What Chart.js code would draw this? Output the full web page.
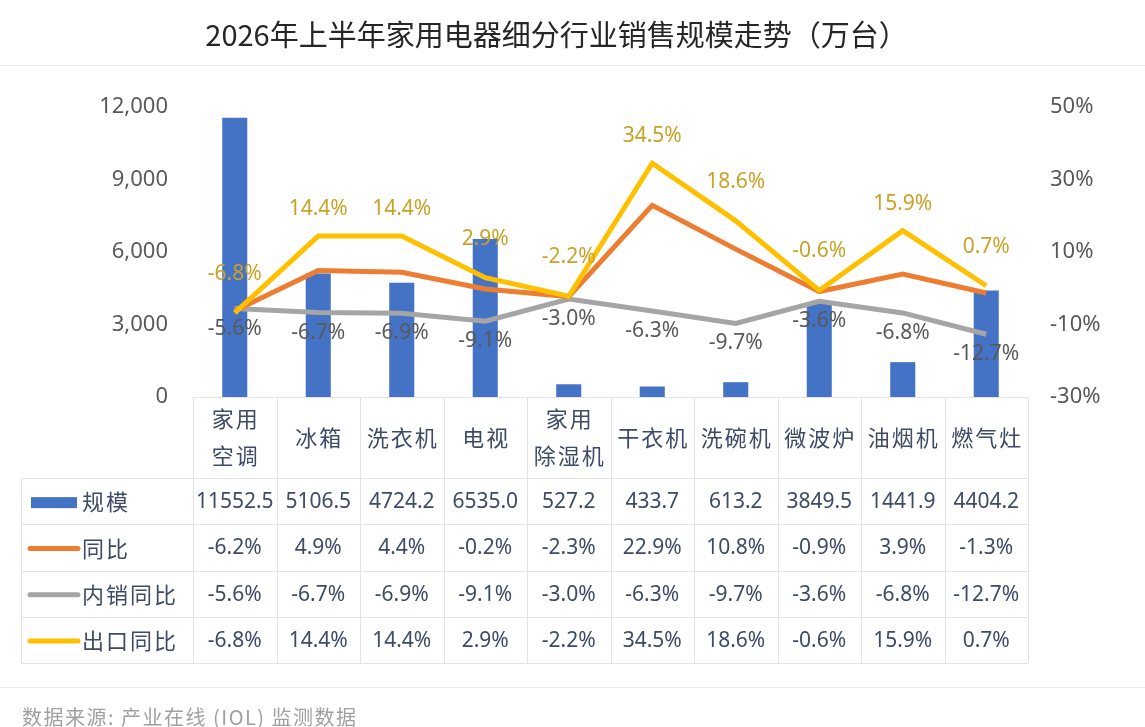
<!DOCTYPE html>
<html lang="zh">
<head>
<meta charset="utf-8">
<title>2026年上半年家用电器细分行业销售规模走势</title>
<script src="https://cdn.jsdelivr.net/npm/chart.js@4.4.1/dist/chart.umd.min.js"></script>
<style>
  html, body { margin: 0; padding: 0; background: #fff; }
  body { font-family: "Noto Sans", "Noto Sans CJK SC", sans-serif; }
  #wrap { position: relative; width: 1145px; height: 727px; overflow: hidden; }
  #title {
    position: absolute; left: 0; top: 12px; width: 1113px; text-align: center;
    font-size: 29px; color: #262626; font-family: "Noto Sans CJK SC", sans-serif;
  }
  #topline { position: absolute; left: 0; top: 65px; width: 1145px; height: 1px; background: #e6e6e6; }
  #botline { position: absolute; left: 0; top: 687px; width: 1145px; height: 1px; background: #ececec; }
  #source {
    position: absolute; left: 22px; top: 702px; font-size: 20px; color: #a0a0a0;
    letter-spacing: 1.5px; font-family: "Noto Sans CJK SC", sans-serif;
  }
  #chart-box { position: absolute; left: 0; top: 0; width: 1145px; height: 727px; }
</style>
</head>
<body>
<div id="wrap">
  <div id="chart-box"><canvas id="chart"></canvas></div>
  <div id="title">2026年上半年家用电器细分行业销售规模走势（万台）</div>
  <div id="topline"></div>
  <div id="botline"></div>
  <div id="source">数据来源: 产业在线 (IOL) 监测数据</div>
</div>
<script>
// ==================== 数据 ====================

/** 品类（两行的用数组） */
const categories = [['家用', '空调'], '冰箱', '洗衣机', '电视', ['家用', '除湿机'], '干衣机', '洗碗机', '微波炉', '油烟机', '燃气灶'];

/** 销售规模（万台） */
const scaleValues = [11552.5, 5106.5, 4724.2, 6535.0, 527.2, 433.7, 613.2, 3849.5, 1441.9, 4404.2];

/** 同比 / 内销同比 / 出口同比（%） */
const yoyValues = [-6.2, 4.9, 4.4, -0.2, -2.3, 22.9, 10.8, -0.9, 3.9, -1.3];
const domesticYoy = [-5.6, -6.7, -6.9, -9.1, -3.0, -6.3, -9.7, -3.6, -6.8, -12.7];
const exportYoy = [-6.8, 14.4, 14.4, 2.9, -2.2, 34.5, 18.6, -0.6, 15.9, 0.7];

/** 坐标轴刻度 */
const leftTicks = [0, 3000, 6000, 9000, 12000];
const rightTicks = [-30, -10, 10, 30, 50];

const FONT = '"Noto Sans", "Noto Sans CJK SC", sans-serif';
const CJK_FONT = '"Noto Sans CJK SC", sans-serif';
const TABLE_TEXT = '#3d4b66';
const GRID = '#e3e3e3';

// ==================== 表格行定义 ====================

const tableRows = [
  { name: '规模', kind: 'bar', color: '#4472C4', values: scaleValues, fmt: v => v.toFixed(1) },
  { name: '同比', kind: 'line', color: '#ED7D31', values: yoyValues, fmt: v => v.toFixed(1) + '%' },
  { name: '内销同比', kind: 'line', color: '#A5A5A5', values: domesticYoy, fmt: v => v.toFixed(1) + '%' },
  { name: '出口同比', kind: 'line', color: '#FFC000', values: exportYoy, fmt: v => v.toFixed(1) + '%' }
];

// 表格的纵向分界（像素）
const headerTop = 397;
const headerBottom = 478;
const rowHeight = 46.25;
const tableLeft = 21;

// ==================== 插件：数据标签 ====================

const labelPlugin = {
  id: 'pointLabels',
  afterDatasetsDraw(chart) {
    const ctx = chart.ctx;
    ctx.save();
    ctx.font = '21px ' + FONT;
    ctx.textAlign = 'center';
    ctx.textBaseline = 'middle';

    // 出口同比：标签在点上方，峰值点离得近一些
    const expMeta = chart.getDatasetMeta(3);
    ctx.fillStyle = '#c9a227';
    expMeta.data.forEach((pt, i) => {
      const v = exportYoy[i];
      const prev = i > 0 ? exportYoy[i - 1] : -Infinity;
      const next = i < exportYoy.length - 1 ? exportYoy[i + 1] : -Infinity;
      const peak = v >= prev && v >= next;
      ctx.fillText(v.toFixed(1) + '%', pt.x, pt.y - (peak ? 27 : 39));
    });

    // 内销同比：标签在点下方
    const domMeta = chart.getDatasetMeta(2);
    ctx.fillStyle = '#595959';
    domMeta.data.forEach((pt, i) => {
      ctx.fillText(domesticYoy[i].toFixed(1) + '%', pt.x, pt.y + 20);
    });
    ctx.restore();
  }
};

// ==================== 插件：数据表 ====================

const tablePlugin = {
  id: 'dataTable',
  afterDraw(chart) {
    const ctx = chart.ctx;
    const x = chart.scales.x;
    const n = categories.length;
    const half = (x.getPixelForValue(1) - x.getPixelForValue(0)) / 2;
    const colLeft = x.getPixelForValue(0) - half;
    const colRight = x.getPixelForValue(n - 1) + half;
    const tableBottom = headerBottom + rowHeight * tableRows.length;

    ctx.save();
    ctx.strokeStyle = GRID;
    ctx.lineWidth = 1;
    ctx.beginPath();
    // 表头上沿
    ctx.moveTo(colLeft, headerTop + 0.5);
    ctx.lineTo(colRight, headerTop + 0.5);
    // 行分隔线
    for (let r = 0; r <= tableRows.length; r++) {
      const y = Math.round(headerBottom + rowHeight * r) + 0.5;
      ctx.moveTo(tableLeft, y);
      ctx.lineTo(colRight, y);
    }
    // 列分隔线
    for (let i = 0; i <= n; i++) {
      const cx = Math.round(colLeft + half * 2 * i) + 0.5;
      ctx.moveTo(cx, headerTop);
      ctx.lineTo(cx, tableBottom);
    }
    ctx.moveTo(tableLeft + 0.5, headerBottom);
    ctx.lineTo(tableLeft + 0.5, tableBottom);
    ctx.stroke();

    ctx.textAlign = 'center';
    ctx.textBaseline = 'middle';
    ctx.fillStyle = TABLE_TEXT;

    // 表头（品类）
    ctx.font = '22px ' + CJK_FONT;
    ctx.letterSpacing = '2px';
    const headMid = (headerTop + headerBottom) / 2;
    categories.forEach((c, i) => {
      const cx = x.getPixelForValue(i) + 1;
      if (Array.isArray(c)) {
        ctx.fillText(c[0], cx, headMid - 19);
        ctx.fillText(c[1], cx, headMid + 18);
      } else {
        ctx.fillText(c, cx, headMid);
      }
    });

    // 各数据行
    tableRows.forEach((row, r) => {
      const mid = headerBottom + rowHeight * r + rowHeight / 2 + 1;

      // 图例
      if (row.kind === 'bar') {
        ctx.fillStyle = row.color;
        ctx.fillRect(31, mid - 5, 46, 11);
      } else {
        ctx.strokeStyle = row.color;
        ctx.lineWidth = 5;
        ctx.lineCap = 'round';
        ctx.beginPath();
        ctx.moveTo(30, mid);
        ctx.lineTo(78, mid);
        ctx.stroke();
      }
      ctx.fillStyle = TABLE_TEXT;
      ctx.textAlign = 'left';
      ctx.font = '22px ' + CJK_FONT;
      ctx.letterSpacing = '2px';
      ctx.fillText(row.name, 82, mid);

      ctx.textAlign = 'center';
      ctx.font = '21px ' + FONT;
      ctx.letterSpacing = '0px';
      row.values.forEach((v, i) => {
        ctx.fillText(row.fmt(v), x.getPixelForValue(i), mid);
      });
    });
    ctx.restore();
  }
};

// ==================== 图表 ====================

const lineStyle = color => ({
  type: 'line',
  yAxisID: 'y1',
  borderColor: color,
  backgroundColor: color,
  borderWidth: 5,
  pointRadius: 0,
  pointHoverRadius: 0,
  tension: 0,
  fill: false,
  borderJoinStyle: 'miter'
});

new Chart(document.getElementById('chart'), {
  type: 'bar',
  data: {
    labels: categories,
    datasets: [
      {
        label: '规模',
        data: scaleValues,
        backgroundColor: '#4472C4',
        yAxisID: 'y',
        barPercentage: 0.3,
        categoryPercentage: 1,
        order: 4
      },
      Object.assign(lineStyle('#ED7D31'), { label: '同比', data: yoyValues, order: 2 }),
      Object.assign(lineStyle('#A5A5A5'), { label: '内销同比', data: domesticYoy, order: 3 }),
      Object.assign(lineStyle('#FFC000'), { label: '出口同比', data: exportYoy, order: 1 })
    ]
  },
  options: {
    responsive: true,
    maintainAspectRatio: false,
    animation: false,
    layout: { padding: { top: 107, bottom: 330, left: 0, right: 0 } },
    plugins: {
      legend: { display: false },
      tooltip: { enabled: false }
    },
    scales: {
      x: {
        display: false,
        offset: true
      },
      y: {
        position: 'left',
        min: 0,
        max: 12000,
        afterBuildTicks: s => { s.ticks = leftTicks.map(v => ({ value: v })); },
        afterFit: s => { s.width = 193; },
        grid: { display: false, drawTicks: false },
        border: { display: false },
        ticks: {
          padding: 25,
          color: '#595959',
          font: { size: 22, family: FONT },
          callback: v => v.toLocaleString('en-US')
        }
      },
      y1: {
        position: 'right',
        min: -30,
        max: 50,
        afterBuildTicks: s => { s.ticks = rightTicks.map(v => ({ value: v })); },
        afterFit: s => { s.width = 117; },
        grid: { display: false, drawTicks: false },
        border: { display: false },
        ticks: {
          padding: 22,
          color: '#595959',
          font: { size: 22, family: FONT },
          callback: v => v + '%'
        }
      }
    }
  },
  plugins: [labelPlugin, tablePlugin]
});
</script>
</body>
</html>
